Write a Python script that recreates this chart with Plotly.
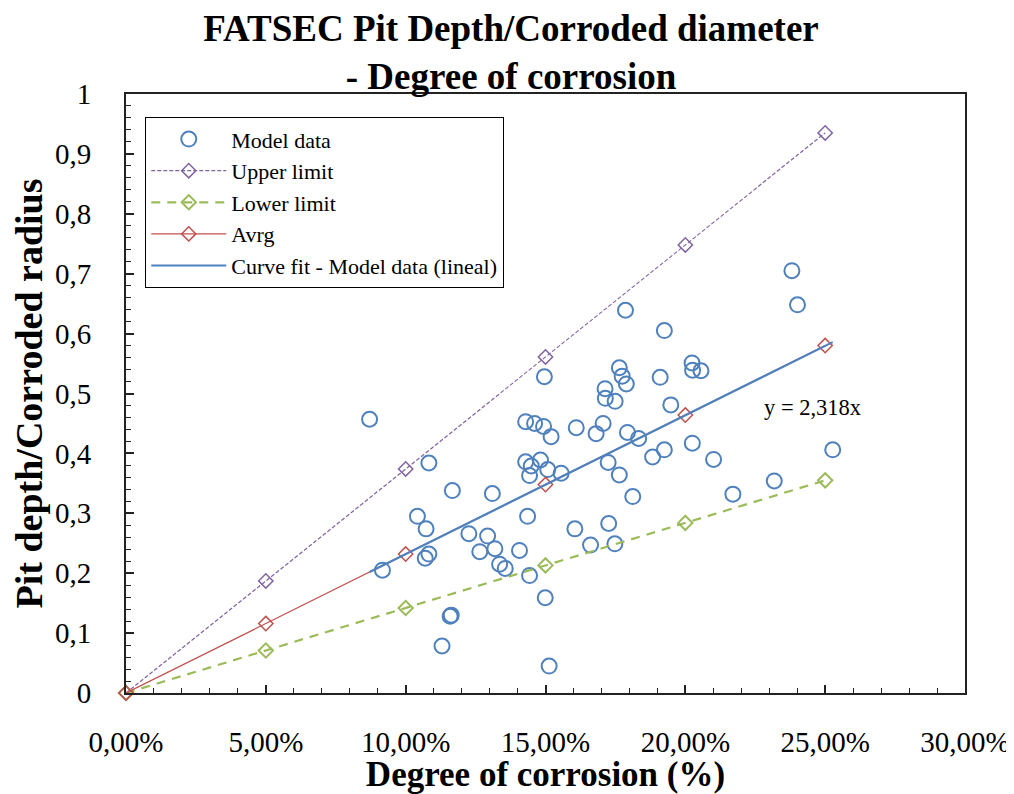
import plotly.graph_objects as go
import numpy as np

# ---- data ----
model_x = [0.0871, 0.0917, 0.1083, 0.1042, 0.1073, 0.1070, 0.1083, 0.1167, 0.1159, 0.1163,
           0.1130, 0.1226, 0.1265, 0.1293, 0.1310, 0.1319, 0.1336, 0.1356, 0.1407, 0.1429,
           0.1429, 0.1436, 0.1443, 0.1443, 0.1449, 0.1461, 0.1482, 0.1493, 0.1496, 0.1499,
           0.1508, 0.1520, 0.1513, 0.1556, 0.1605, 0.1610, 0.1661, 0.1681, 0.1706, 0.1713,
           0.1714, 0.1724, 0.1726, 0.1749, 0.1748, 0.1764, 0.1764, 0.1774, 0.1789, 0.1786,
           0.1793, 0.1812, 0.1833, 0.1883, 0.1910, 0.1925, 0.1925, 0.1948, 0.2024, 0.2025,
           0.2026, 0.2056, 0.2101, 0.2170, 0.2318, 0.2381, 0.2401, 0.2527]
model_y = [0.457, 0.205, 0.384, 0.295, 0.274, 0.225, 0.232, 0.338, 0.128, 0.130,
           0.0785, 0.266, 0.236, 0.262, 0.333, 0.241, 0.215, 0.208, 0.238, 0.453,
           0.386, 0.295, 0.196, 0.363, 0.379, 0.450, 0.389, 0.445, 0.528, 0.159,
           0.373, 0.428, 0.045, 0.367, 0.274, 0.443, 0.247, 0.433, 0.450, 0.508,
           0.492, 0.385, 0.283, 0.487, 0.249, 0.364, 0.543, 0.529, 0.516, 0.639,
           0.435, 0.328, 0.425, 0.394, 0.527, 0.605, 0.406, 0.481, 0.551, 0.417,
           0.539, 0.538, 0.390, 0.332, 0.354, 0.705, 0.648, 0.406]

limit_x = [0.0, 0.05, 0.10, 0.15, 0.20, 0.25]
upper_y = [0.0, 0.187, 0.374, 0.561, 0.748, 0.935]
lower_y = [0.0, 0.071, 0.142, 0.213, 0.284, 0.355]
avrg_y = [0.0, 0.116, 0.232, 0.348, 0.464, 0.580]

fit_slope = 2.318

x_tickvals = [0.0, 0.05, 0.10, 0.15, 0.20, 0.25, 0.30]
x_ticktext = ["0,00%", "5,00%", "10,00%", "15,00%", "20,00%", "25,00%", "30,00%"]
y_tickvals = [0.0, 0.1, 0.2, 0.3, 0.4, 0.5, 0.6, 0.7, 0.8, 0.9, 1.0]
y_ticktext = ["0", "0,1", "0,2", "0,3", "0,4", "0,5", "0,6", "0,7", "0,8", "0,9", "1"]

# ---- figure ----
SERIF = "Liberation Serif, Times New Roman, serif"
BLUE = "#4F81BD"
PURPLE = "#8064A2"
GREEN = "#9BBB59"
RED = "#C0504D"
AX = "#222222"

fig = go.Figure()

fig.add_trace(go.Scatter(
    x=model_x, y=model_y, mode="markers", name="Model data",
    marker=dict(symbol="circle-open", size=15, color=BLUE, line=dict(width=2, color=BLUE)),
))
fig.add_trace(go.Scatter(
    x=limit_x, y=upper_y, mode="lines+markers", name="Upper limit",
    line=dict(color=PURPLE, width=1.2, dash="4px,2px"),
    marker=dict(symbol="diamond-open", size=11, color=PURPLE, line=dict(width=1.5, color=PURPLE)),
    cliponaxis=False,
))
fig.add_trace(go.Scatter(
    x=limit_x, y=lower_y, mode="lines+markers", name="Lower limit",
    line=dict(color=GREEN, width=2.2, dash="9px,7px"),
    marker=dict(symbol="diamond-open", size=11, color=GREEN, line=dict(width=2, color=GREEN)),
    cliponaxis=False,
))
fig.add_trace(go.Scatter(
    x=limit_x, y=avrg_y, mode="lines+markers", name="Avrg",
    line=dict(color=RED, width=1.3),
    marker=dict(symbol="diamond-open", size=11, color=RED, line=dict(width=1.5, color=RED)),
    cliponaxis=False,
))

fx = np.array([min(model_x), max(model_x)])
fig.add_trace(go.Scatter(
    x=fx, y=fit_slope * fx, mode="lines", name="Curve fit - Model data (lineal)",
    line=dict(color=BLUE, width=2.2),
))

fig.add_annotation(
    x=0.2454, y=0.476, xref="x", yref="y", text="y = 2,318x", showarrow=False,
    font=dict(family=SERIF, size=22.5, color="black"),
)

# the page body has an 8px default margin, so the figure is 8px smaller
fig.update_layout(
    width=1006, height=786,
    paper_bgcolor="white", plot_bgcolor="white",
    margin=dict(l=118, r=49, t=86, b=101, autoexpand=False),
    title=dict(
        text="<b>FATSEC Pit Depth/Corroded diameter<br>- Degree of corrosion</b>",
        x=0.5, xref="container", xanchor="center",
        y=0.958, yref="container", yanchor="top",
        font=dict(family=SERIF, size=37, color="black"),
    ),
    font=dict(family=SERIF, color="black"),
    showlegend=True,
    legend=dict(
        x=0.0226, y=0.9616, xanchor="left", yanchor="top",
        bgcolor="white", bordercolor="black", borderwidth=1.3,
        font=dict(family=SERIF, size=22, color="black"),
        itemwidth=75, tracegroupgap=0,
    ),
)

fig.update_xaxes(
    range=[0, 0.30], tickmode="array", tickvals=x_tickvals, ticktext=x_ticktext,
    showgrid=False, zeroline=False,
    showline=True, linecolor=AX, linewidth=2, mirror=True,
    ticks="inside", ticklen=8, tickwidth=1.5, tickcolor=AX,
    minor=dict(ticks="inside", ticklen=5, tickwidth=1.2, tickcolor=AX, dtick=0.01, showgrid=False),
    tickfont=dict(family=SERIF, size=29, color="black"),
    ticklabelstandoff=22, ticklabeloverflow="allow",
    title=dict(text="<b>Degree of corrosion (%)</b>", font=dict(family=SERIF, size=35, color="black"), standoff=13),
)
fig.update_yaxes(
    range=[0, 1], tickmode="array", tickvals=y_tickvals, ticktext=y_ticktext,
    showgrid=False, zeroline=False,
    showline=True, linecolor=AX, linewidth=2, mirror=True,
    ticks="inside", ticklen=8, tickwidth=1.5, tickcolor=AX,
    minor=dict(ticks="inside", ticklen=5, tickwidth=1.2, tickcolor=AX, dtick=0.02, showgrid=False),
    tickfont=dict(family=SERIF, size=29, color="black"),
    ticklabelstandoff=27, ticklabeloverflow="allow",
    title=dict(text="<b>Pit depth/Corroded radius</b>", font=dict(family=SERIF, size=38, color="black"), standoff=8),
)

fig.write_html("out.html")
